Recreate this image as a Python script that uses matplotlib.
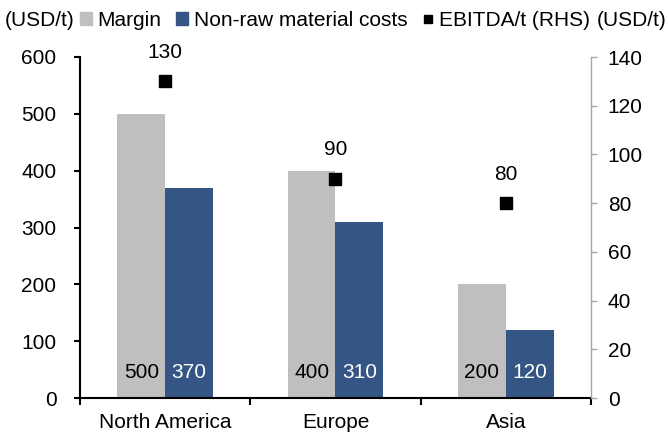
import matplotlib
matplotlib.use("Agg")
import matplotlib.pyplot as plt
import numpy as np
from matplotlib.lines import Line2D
from matplotlib.patches import Patch

plt.rcParams["font.family"] = ["Liberation Sans", "DejaVu Sans"]

regions = ["North America", "Europe", "Asia"]
margin = [500, 400, 200]
non_raw_costs = [370, 310, 120]
ebitda_per_t = [130, 90, 80]

GRAY = "#bfbfbf"
BLUE = "#355584"
AXGRAY = "#a6a6a6"
FS = 15

fig = plt.figure(figsize=(6.68, 4.32), dpi=100)
ax = fig.add_axes([80 / 668, 34 / 432, (591 - 80) / 668, (398 - 57) / 432])
ax2 = ax.twinx()

x = np.arange(len(regions))
w = 0.28
ax.bar(x - w / 2, margin, width=w, color=GRAY, zorder=2)
ax.bar(x + w / 2, non_raw_costs, width=w, color=BLUE, zorder=2)

for xi, m, c in zip(x, margin, non_raw_costs):
    ax.text(xi - w / 2, 45, f"{m}", ha="center", va="center", fontsize=FS, color="black")
    ax.text(xi + w / 2, 45, f"{c}", ha="center", va="center", fontsize=FS, color="white")

ax2.scatter(x, ebitda_per_t, marker="s", s=70, color="black", zorder=3)
for xi, v in zip(x, ebitda_per_t):
    ax2.annotate(f"{v}", (xi, v), xytext=(0, 14), textcoords="offset points",
                 ha="center", va="bottom", fontsize=FS)

ax.set_xlim(-0.5, len(regions) - 0.5)
ax.set_ylim(0, 600)
ax.set_yticks(range(0, 601, 100))
ax2.set_ylim(0, 140)
ax2.set_yticks(range(0, 141, 20))

ax.set_xticks(x)
ax.set_xticklabels(regions, fontsize=FS)
ax.tick_params(axis="x", length=0, pad=11)
ax.set_xticks(np.arange(-0.5, len(regions), 1), minor=True)
ax.tick_params(axis="x", which="minor", length=5, width=1.5, direction="out", color="black")
ax.tick_params(axis="y", labelsize=FS, length=4, width=1.5, direction="out", pad=13)
ax2.tick_params(axis="y", labelsize=FS, length=4, width=1, labelcolor="black",
                direction="out", color=AXGRAY, pad=8)

ax.spines["top"].set_visible(False)
ax2.spines["top"].set_visible(False)
ax.spines["right"].set_visible(False)
ax2.spines["left"].set_visible(False)
ax2.spines["bottom"].set_visible(False)
ax.spines["left"].set_linewidth(1.5)
ax.spines["bottom"].set_linewidth(1.5)
ax2.spines["right"].set_color(AXGRAY)
ax2.spines["right"].set_linewidth(1)

handles = [
    Patch(color=GRAY, label="Margin"),
    Patch(color=BLUE, label="Non-raw material costs"),
    Line2D([], [], marker="s", linestyle="none", color="black", markersize=6,
           label="EBITDA/t (RHS)"),
]
fig.legend(handles=handles, loc="center", bbox_to_anchor=(335 / 668, 1 - 20 / 432),
           ncol=3, frameon=False, fontsize=FS, handlelength=0.6, handleheight=0.6,
           handletextpad=0.25, columnspacing=0.7, borderpad=0)
fig.text(5 / 668, 1 - 20 / 432, "(USD/t)", ha="left", va="center", fontsize=FS)
fig.text(666 / 668, 1 - 20 / 432, "(USD/t)", ha="right", va="center", fontsize=FS)

fig.savefig("out.png", dpi=100)
